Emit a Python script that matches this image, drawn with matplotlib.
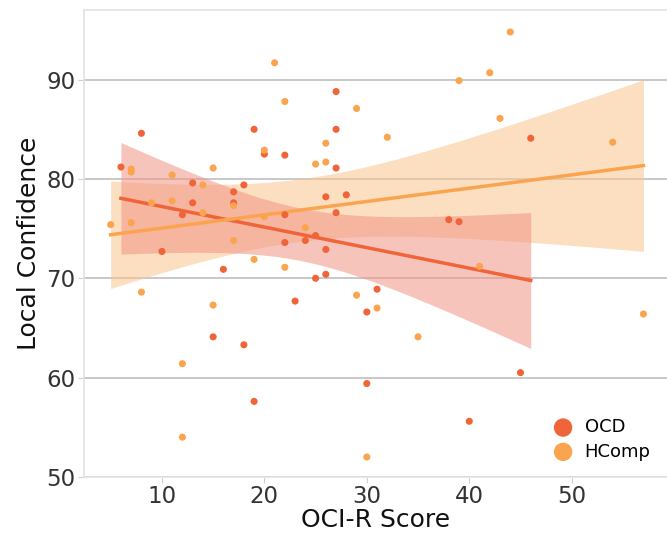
import numpy as np
import matplotlib
matplotlib.use("Agg")
import matplotlib.pyplot as plt

# ------------ data -----------------------------------------------------
ocd_x = [6, 8, 10, 12, 13, 13, 15, 16, 17, 17, 18, 18, 19, 19, 20, 22, 22, 22,
         23, 24, 25, 25, 26, 26, 26, 27, 27, 27, 27, 28, 30, 30, 31, 38, 39,
         40, 45, 46]
ocd_y = [81.2, 84.6, 72.7, 76.4, 79.6, 77.6, 64.1, 70.9, 78.7, 77.6, 79.4, 63.3,
         85.0, 57.6, 82.5, 82.4, 76.4, 73.6, 67.7, 73.8, 74.3, 70.0, 78.2, 72.9,
         70.4, 88.8, 85.0, 81.1, 76.6, 78.4, 66.6, 59.4, 68.9, 75.9, 75.7, 55.6,
         60.5, 84.1]

hc_x = [5, 7, 7, 7, 8, 9, 11, 11, 12, 12, 14, 14, 15, 15, 17, 17, 19, 20, 20,
        21, 22, 22, 24, 25, 26, 26, 29, 29, 30, 31, 32, 35, 39, 41, 42, 43, 44,
        54, 57]
hc_y = [75.4, 81.0, 80.7, 75.6, 68.6, 77.6, 80.4, 77.8, 61.4, 54.0, 79.4, 76.6,
        81.1, 67.3, 77.3, 73.8, 71.9, 82.9, 76.2, 91.7, 87.8, 71.1, 75.1, 81.5,
        83.6, 81.7, 87.1, 68.3, 52.0, 67.0, 84.2, 64.1, 89.9, 71.2, 90.7, 86.1,
        94.8, 83.7, 66.4]

groups = ["OCD", "HComp"]
colors = {"OCD": "#f0643a", "HComp": "#fba450"}
band_colors = {"OCD": "#f29484", "HComp": "#fbc48f"}


def fit_with_ci(x, y, grid, t=2.03):
    x = np.asarray(x, float)
    y = np.asarray(y, float)
    b, a = np.polyfit(x, y, 1)
    resid = y - (a + b * x)
    n = len(x)
    s = np.sqrt(np.sum(resid ** 2) / (n - 2))
    sxx = np.sum((x - x.mean()) ** 2)
    se = s * np.sqrt(1 / n + (grid - x.mean()) ** 2 / sxx)
    yhat = a + b * grid
    return yhat, yhat - t * se, yhat + t * se


plt.rcParams["font.family"] = ["DejaVu Sans"]
fig = plt.figure(figsize=(6.67, 5.34), dpi=100)
ax = fig.add_axes([0.126, 0.107, 0.874, 0.874])

data = {"OCD": (ocd_x, ocd_y), "HComp": (hc_x, hc_y)}

# bands first, then lines, then points
for g in ["HComp", "OCD"]:
    x, y = data[g]
    grid = np.linspace(min(x), max(x), 100)
    yhat, lo, hi = fit_with_ci(x, y, grid)
    ax.fill_between(grid, lo, hi, color=band_colors[g], alpha=0.55, lw=0, zorder=2)

for g in groups:
    x, y = data[g]
    grid = np.linspace(min(x), max(x), 100)
    yhat, lo, hi = fit_with_ci(x, y, grid)
    ax.plot(grid, yhat, color=colors[g], lw=2.5, zorder=3)

for g in groups:
    x, y = data[g]
    ax.scatter(x, y, s=26, color=colors[g], edgecolors="none", zorder=4, label=g)

ax.set_xlim(2.4, 59.3)
ax.set_ylim(50, 97)
ax.set_xticks([10, 20, 30, 40, 50])
ax.set_yticks([50, 60, 70, 80, 90])
ax.grid(axis="y", color="#c8c8c8", lw=1.4, zorder=0)
ax.set_axisbelow(True)

for side in ["left", "top", "bottom"]:
    ax.spines[side].set_color("#e2e2e2")
    ax.spines[side].set_linewidth(1.2)
ax.spines["right"].set_visible(False)
ax.tick_params(colors="#d0d0d0", labelcolor="#333333", labelsize=16.5, length=4, pad=2)

ax.set_xlabel("OCI-R Score", fontsize=18, color="#111111", labelpad=0)
ax.set_ylabel("Local Confidence", fontsize=18, color="#111111", labelpad=4)

leg = ax.legend(loc="lower right", frameon=False, fontsize=13, markerscale=2.6,
                handletextpad=0.2, borderaxespad=0.5, labelspacing=0.35)

fig.savefig("out.png", dpi=100)
